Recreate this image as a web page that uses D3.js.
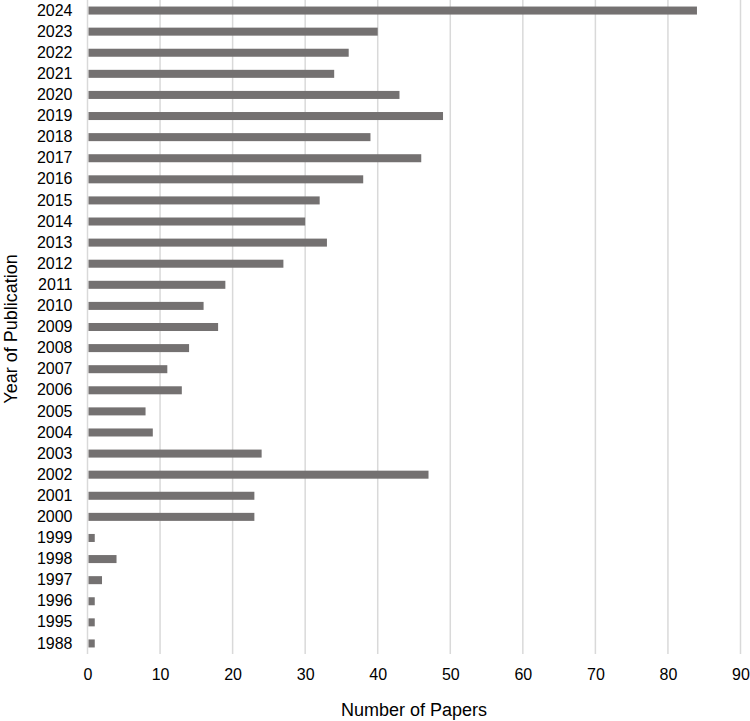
<!DOCTYPE html>
<html>
<head>
<meta charset="utf-8">
<script src="https://cdn.jsdelivr.net/npm/d3@7"></script>
<style>
  body { margin: 0; background: #fff; }
  text { font-family: "Liberation Sans", Arial, sans-serif; fill: #000; }
</style>
</head>
<body>
<div id="chart"></div>
<script>
// years, top to bottom
var years = ["2024", "2023", "2022", "2021", "2020", "2019", "2018", "2017", "2016", "2015",
    "2014", "2013", "2012", "2011", "2010", "2009", "2008", "2007", "2006", "2005",
    "2004", "2003", "2002", "2001", "2000", "1999", "1998", "1997", "1996", "1995", "1988"];
var papers = [84, 40, 36, 34, 43, 49, 39, 46, 38, 32,
    30, 33, 27, 19, 16, 18, 14, 11, 13, 8,
    9, 24, 47, 23, 23, 1, 4, 2, 1, 1, 1];
var xTicks = [0, 10, 20, 30, 40, 50, 60, 70, 80, 90];

var fullWidth = 750, fullHeight = 721;
var margin = { top: 0, right: 9.5, bottom: 67, left: 87.5 };
var width = fullWidth - margin.left - margin.right;
var height = fullHeight - margin.top - margin.bottom;

var svg = d3.select("#chart").append("svg")
    .attr("width", fullWidth)
    .attr("height", fullHeight)
    .append("g")
    .attr("transform", "translate(" + margin.left + "," + margin.top + ")");

var x = d3.scaleLinear().domain([0, 90]).range([0, width]);
var y = d3.scaleBand().domain(years).range([0, height]).paddingInner(0.62).paddingOuter(0.31);

// gridlines
svg.selectAll(".grid").data(xTicks).enter().append("line")
    .attr("class", "grid")
    .attr("x1", function(d) { return x(d); })
    .attr("x2", function(d) { return x(d); })
    .attr("y1", 0)
    .attr("y2", height)
    .style("stroke", "#d9d9d9")
    .style("stroke-width", 1.5);

// bars
svg.selectAll(".bar").data(years).enter().append("rect")
    .attr("class", "bar")
    .attr("x", x(0) + 1)
    .attr("y", function(d) { return y(d); })
    .attr("width", function(d, i) { return x(papers[i]) - x(0) - 1; })
    .attr("height", y.bandwidth())
    .style("fill", "#747171");

// y axis labels
var yAxis = svg.append("g")
    .call(d3.axisLeft(y).tickSize(0).tickPadding(15));
yAxis.select(".domain").remove();
yAxis.selectAll("text").style("font-size", "16px");

// x axis labels
var xAxis = svg.append("g")
    .attr("transform", "translate(0," + height + ")")
    .call(d3.axisBottom(x).tickValues(xTicks).tickSize(0).tickPadding(15));
xAxis.select(".domain").remove();
xAxis.selectAll("text").style("font-size", "16px");

// axis titles
svg.append("text")
    .attr("x", width / 2)
    .attr("y", height + 62)
    .attr("text-anchor", "middle")
    .style("font-size", "18px")
    .text("Number of Papers");

svg.append("text")
    .attr("transform", "translate(" + (-margin.left + 17) + "," + (height / 2 + 2) + ") rotate(-90)")
    .attr("text-anchor", "middle")
    .style("font-size", "18px")
    .text("Year of Publication");
</script>
</body>
</html>
